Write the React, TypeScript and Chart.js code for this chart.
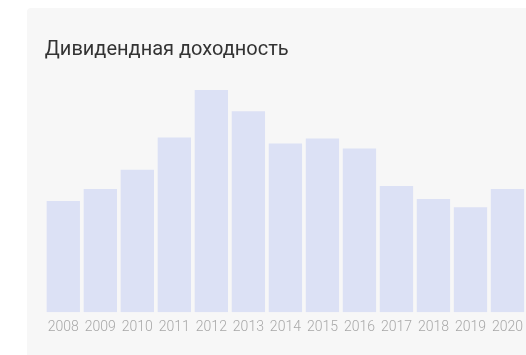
import React, { useEffect, useRef } from "react";
import { Chart, registerables } from "chart.js";

Chart.register(...registerables);

const titleText = "Дивидендная доходность";
const years = ["2008", "2009", "2010", "2011", "2012", "2013", "2014", "2015", "2016", "2017", "2018", "2019", "2020"];
const yieldValues = [5.5, 6.1, 7.05, 8.65, 11.0, 9.95, 8.35, 8.6, 8.1, 6.25, 5.6, 5.2, 6.1];

export default function App() {
  const ref = useRef<HTMLCanvasElement | null>(null);

  useEffect(() => {
    if (!ref.current) return;
    const chart = new Chart(ref.current, {
      type: "bar",
      data: {
        labels: years,
        datasets: [
          {
            data: yieldValues,
            backgroundColor: "#dce1f5",
            borderWidth: 0,
            barPercentage: 0.9,
            categoryPercentage: 1,
          },
        ],
      },
      options: {
        animation: false,
        responsive: false,
        maintainAspectRatio: false,
        layout: { padding: { left: 44.8, right: 0, top: 38, bottom: 20 } },
        plugins: {
          legend: { display: false },
          tooltip: { enabled: false },
          title: {
            display: true,
            text: titleText,
            align: "start",
            color: "#333333",
            font: { family: "Roboto", size: 20, weight: "normal" },
            padding: { top: 0, bottom: 28 },
          },
        },
        scales: {
          x: {
            grid: { display: false },
            border: { display: false },
            ticks: {
              color: "#a8a8a8",
              font: { family: "Roboto", size: 14, weight: "300" },
              padding: -1,
              maxRotation: 0,
              autoSkip: false,
            },
          },
          y: {
            display: false,
            min: 0,
            max: 11,
          },
        },
      },
    });
    return () => chart.destroy();
  }, []);

  return (
    <div style={{ position: "absolute", left: 0, top: 0, width: 526, height: 355, background: "#ffffff", overflow: "hidden" }}>
      <div style={{ position: "absolute", left: 27, top: 8, width: 520, height: 360, background: "#f7f7f7", borderRadius: 4 }} />
      <canvas ref={ref} width={526} height={355} style={{ position: "absolute", left: 0, top: 0, width: 526, height: 355 }} />
    </div>
  );
}
